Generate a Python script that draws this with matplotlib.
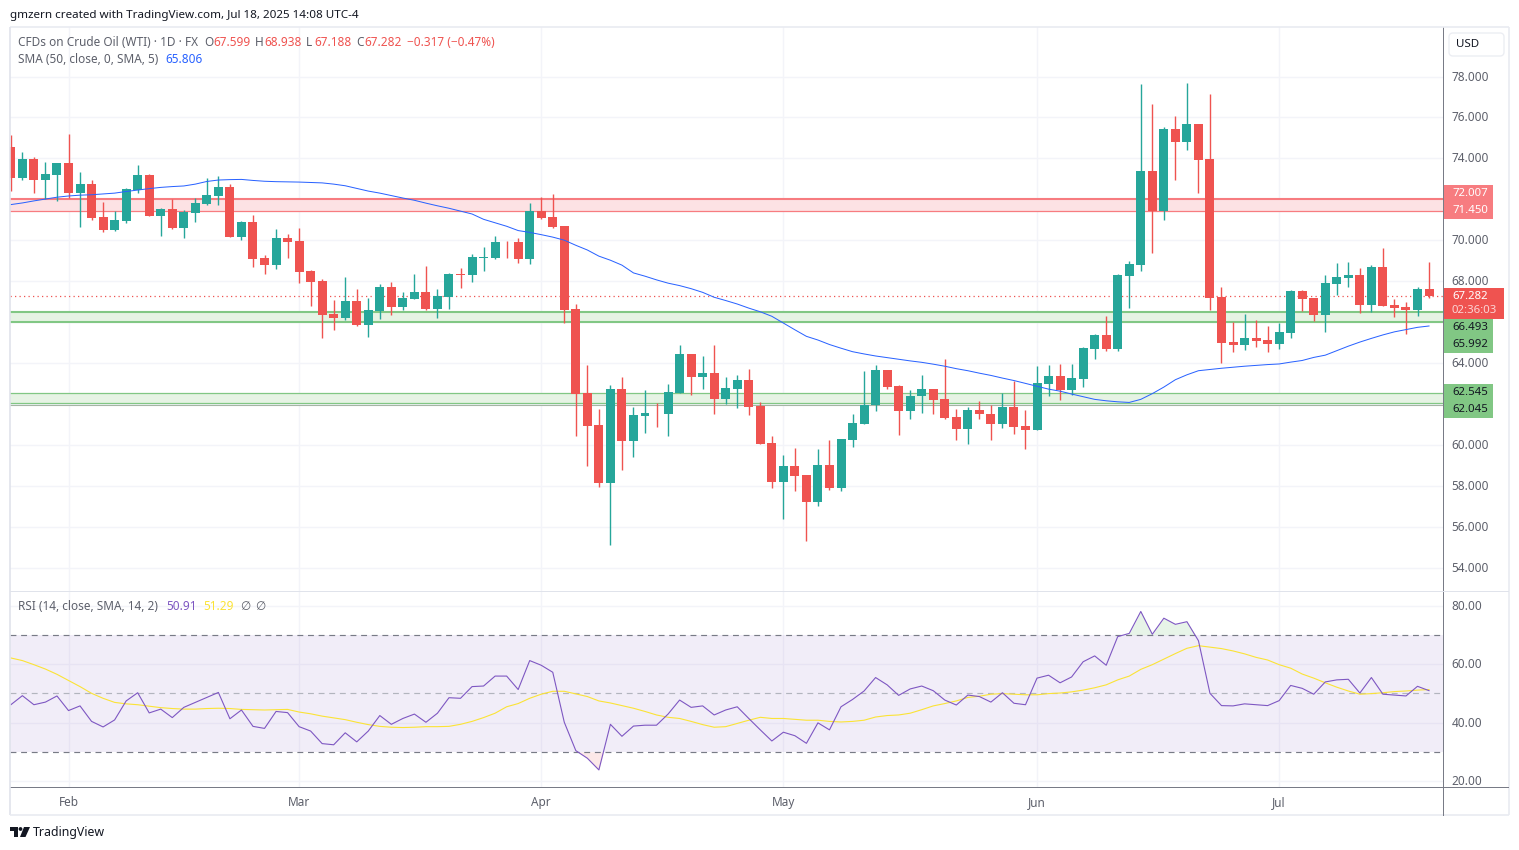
import matplotlib
matplotlib.use("Agg")
import matplotlib.pyplot as plt
from matplotlib.patches import Rectangle, FancyBboxPatch, Polygon, Circle
from matplotlib.transforms import ScaledTranslation

plt.rcParams['font.family'] = ['Noto Sans', 'DejaVu Sans']

opens = [74.55,73.04,73.97,72.94,73.19,73.77,72.31,72.75,71.13,70.50,70.94,72.45,73.19,71.18,71.52,70.60,71.33,71.77,72.16,72.60,
         70.16,70.89,69.13,68.79,70.11,69.97,68.50,68.01,66.40,66.21,67.04,65.86,66.55,67.72,66.74,67.13,67.48,66.64,67.23,68.34,
         68.31,69.15,69.12,69.93,69.92,69.09,71.43,71.14,70.70,66.65,62.54,60.98,58.15,62.74,60.20,61.42,61.57,61.52,62.54,64.45,
         63.33,63.52,62.25,62.74,63.18,61.91,60.10,58.20,58.98,58.50,57.18,59.03,57.91,60.25,61.04,61.92,63.67,62.89,61.67,62.36,
         62.75,62.26,61.38,60.79,61.72,61.52,61.04,61.87,60.94,60.74,62.98,63.37,62.68,63.22,64.69,65.37,64.69,68.25,68.79,73.38,
         71.43,75.43,74.80,75.68,73.97,67.23,65.03,64.89,65.23,65.13,64.93,65.47,67.52,67.18,66.35,67.87,68.16,68.31,66.84,68.70,
         66.84,66.74,66.60,67.599]
closes = [73.04,73.97,72.94,73.23,73.77,72.31,72.75,71.08,70.50,70.99,72.50,73.19,71.18,71.52,70.60,71.38,71.82,72.21,72.60,70.16,
          70.89,69.08,68.79,70.11,69.91,68.45,67.96,66.35,66.21,67.04,65.86,66.60,67.72,66.74,67.18,67.48,66.64,67.28,68.35,68.30,
          69.19,69.17,69.92,69.90,69.09,71.43,71.09,70.65,66.60,62.50,60.93,58.15,62.74,60.20,61.47,61.57,61.53,62.59,64.45,63.33,
          63.52,62.25,62.79,63.18,61.86,60.05,58.20,58.98,58.45,57.18,59.03,57.91,60.30,61.08,61.96,63.67,62.84,61.67,62.40,62.75,
          62.21,61.33,60.79,61.72,61.48,61.04,61.87,60.89,60.74,63.04,63.37,62.68,63.27,64.73,65.37,64.69,68.30,68.84,73.38,71.43,
          75.43,74.80,75.68,73.92,67.18,64.98,64.89,65.23,65.08,64.93,65.52,67.52,67.13,66.35,67.92,68.21,68.31,66.84,68.70,66.79,
          66.69,66.60,67.62,67.282]
highs = [75.14,74.31,74.07,73.82,73.77,75.19,73.33,72.94,71.87,71.43,72.55,73.67,73.23,71.57,72.01,71.48,72.06,73.04,73.14,72.75,
         70.94,71.23,69.28,70.55,70.30,70.60,68.55,68.11,67.08,68.21,67.62,67.18,67.87,67.96,67.48,68.35,68.75,67.62,68.40,68.65,
         69.33,69.67,70.21,69.97,70.11,71.82,72.12,72.26,70.70,66.89,63.91,61.76,62.93,63.33,61.86,62.69,62.06,62.98,64.89,64.45,
         64.35,64.89,63.33,63.42,63.72,62.10,60.44,59.51,59.86,58.50,59.81,60.25,60.30,61.48,63.63,63.92,63.67,62.94,62.70,63.43,
         62.75,64.21,61.77,61.87,62.16,61.92,62.55,63.14,61.72,63.87,63.91,63.96,63.96,64.78,65.42,66.30,68.35,68.99,77.63,76.66,
         75.53,76.07,77.68,75.68,77.14,67.72,66.01,66.40,66.11,65.81,65.96,67.57,67.57,67.18,68.31,68.89,68.94,68.65,68.79,69.63,
         67.13,66.99,67.72,68.938]
lows = [72.40,72.94,72.31,72.01,71.92,72.06,70.65,70.99,70.40,70.45,70.84,72.31,71.18,70.21,70.55,70.11,70.89,71.72,71.72,70.16,
        70.01,68.69,68.35,68.59,69.13,67.92,66.79,65.23,65.62,66.11,65.81,65.28,66.16,66.35,66.60,67.13,66.60,66.21,66.64,67.67,
        67.96,68.50,69.09,69.14,68.89,68.84,71.04,70.60,65.96,60.44,58.98,57.95,55.12,58.78,59.42,60.59,60.88,60.44,62.54,62.45,
        62.74,61.52,62.01,61.81,61.47,60.05,57.90,56.39,57.76,55.32,57.03,57.81,57.76,59.91,61.04,61.67,62.75,60.50,61.28,61.57,
        61.52,61.28,60.25,60.06,61.28,60.25,60.84,60.55,59.81,60.74,62.40,62.19,62.44,62.83,64.20,64.59,64.59,66.69,68.50,69.38,
        70.99,72.94,74.41,72.31,66.59,64.00,64.54,64.64,64.79,64.54,64.69,65.23,66.55,66.06,65.52,67.33,67.72,66.45,66.50,66.79,
        66.25,65.42,66.30,67.188]
sma50 = [71.74,71.82,71.92,72.01,72.10,72.16,72.20,72.22,72.26,72.30,72.38,72.45,72.52,72.58,72.62,72.65,72.74,72.87,72.94,72.96,
         72.97,72.92,72.88,72.86,72.85,72.84,72.82,72.80,72.74,72.66,72.53,72.40,72.30,72.18,72.06,71.95,71.81,71.68,71.56,71.42,
         71.28,71.02,70.85,70.68,70.47,70.38,70.27,70.15,70.00,69.75,69.52,69.22,69.02,68.78,68.40,68.24,68.06,67.90,67.78,67.63,
         67.45,67.21,67.05,66.88,66.68,66.50,66.28,65.95,65.62,65.30,65.12,64.90,64.72,64.55,64.44,64.34,64.26,64.18,64.10,64.03,
         63.94,63.84,63.72,63.62,63.50,63.39,63.26,63.14,63.00,62.86,62.72,62.62,62.48,62.35,62.22,62.15,62.10,62.07,62.22,62.50,
         62.82,63.18,63.42,63.62,63.68,63.74,63.79,63.84,63.88,63.92,63.95,64.04,64.12,64.27,64.38,64.60,64.82,65.02,65.20,65.37,
         65.52,65.63,65.74,65.806]
rsi = [46.1,49.2,46.1,47.0,49.1,44.1,45.7,40.4,38.5,40.9,47.4,50.2,43.3,44.6,41.7,45.2,46.9,48.6,50.3,41.3,
       44.3,38.7,38.0,43.8,43.4,38.6,37.1,32.8,32.4,36.5,33.4,37.1,42.4,39.4,41.4,42.9,40.1,43.2,48.5,48.3,
       52.3,52.5,55.9,55.9,51.3,61.2,59.6,57.2,40.1,30.4,27.8,23.8,39.4,35.3,38.8,39.1,39.1,42.9,47.7,45.2,
       45.7,42.6,44.3,45.4,41.4,37.5,33.7,36.7,35.5,32.9,39.9,37.5,45.4,47.9,50.8,55.4,52.9,49.3,51.5,52.5,
       50.9,47.7,46.0,49.4,48.9,47.0,50.2,46.6,46.1,55.2,56.2,53.6,55.6,60.8,62.8,59.6,69.4,70.5,78.0,70.2,
       75.7,73.6,74.5,68.0,50.0,45.8,45.7,46.4,46.1,45.8,47.5,52.7,51.7,49.7,53.9,54.6,54.8,50.1,55.4,49.7,
       49.4,49.1,52.4,50.91]
rsi_ma = [62.1,61.2,59.8,58.3,56.5,54.4,52.3,50.0,48.3,46.9,46.4,46.1,45.6,45.1,44.8,44.6,44.6,44.8,44.9,44.8,
          44.5,44.4,44.3,44.4,44.5,43.6,43.0,42.2,41.6,41.0,40.1,39.3,38.7,38.4,38.3,38.4,38.6,38.6,38.7,39.4,
          40.4,41.7,43.2,45.4,46.5,48.3,49.7,50.7,50.7,49.8,48.9,47.4,46.7,45.8,44.9,43.8,42.6,41.8,41.4,40.4,
          39.3,38.4,38.6,39.7,40.8,41.8,41.4,41.4,41.1,40.8,40.8,40.4,40.2,40.4,40.8,41.9,42.4,42.6,43.2,44.4,
          45.7,46.5,47.4,48.6,49.0,49.7,49.9,49.7,49.5,49.5,49.9,50.1,50.5,51.1,51.9,52.9,54.6,55.9,58.2,59.8,
          61.7,63.6,65.4,66.3,65.8,65.3,64.5,63.5,62.3,61.4,59.8,58.6,56.6,55.2,53.6,52.1,50.8,49.7,49.9,50.2,
          50.6,50.8,51.1,51.29]

price_ticks = [54, 56, 58, 60, 62, 64, 66, 68, 70, 72, 74, 76, 78]
hidden_price_ticks = [62, 66, 72]
rsi_ticks = [20, 40, 60, 80]
month_pos = [5, 25, 46, 67, 89, 110]
month_labels = ["Feb", "Mar", "Apr", "May", "Jun", "Jul"]
red_zone = [71.450, 72.007]
green_zone_a = [65.992, 66.493]
green_zone_b = [62.045, 62.545]
last_close = 67.282

W, H = 1519, 850
UP, DOWN = "#26a69a", "#ef5350"
GRID, TXT, AXIS = "#f3f4f9", "#5d606b", "#787b86"
YELLOW = "#fbe336"
L, R = 10, 1443
P_T, P_B, R_B = 27, 591, 787
px = 1 / 100.0
lw1 = 0.72

fig = plt.figure(figsize=(W * px, H * px), dpi=100, facecolor="white")

def axes_px(x0, x1, y0, y1):
    return fig.add_axes([x0 / W, 1 - y1 / H, (x1 - x0) / W, (y1 - y0) / H])

ax = axes_px(L, R, P_T, P_B)
ar = axes_px(L, R, P_B, R_B)
ov = fig.add_axes([0, 0, 1, 1], zorder=10)
ov.set_xlim(0, W); ov.set_ylim(H, 0); ov.axis("off"); ov.patch.set_alpha(0)

xlim = ((L - 10.85) / 11.53, (R - 10.85) / 11.53)
for a in (ax, ar):
    a.set_xlim(*xlim)
    a.set_xticks(month_pos)
    a.grid(True, color=GRID, lw=1.0, zorder=0)
    a.set_axisbelow(True)
    a.yaxis.tick_right()
    a.tick_params(length=0, labelcolor=TXT, labelsize=8.5, pad=6)
    for s in a.spines.values():
        s.set_visible(False)
    a.spines["right"].set_visible(True)
    a.spines["right"].set_color(AXIS)
    a.spines["right"].set_linewidth(lw1)
ax.set_ylim(78 - (P_B - 76.5) / 20.46, 78 + (76.5 - P_T) / 20.46)
ax.set_yticks(price_ticks, ["" if t in hidden_price_ticks else f"{t:.3f}" for t in price_ticks])
ax.tick_params(labelbottom=False)
ar.set_ylim(17.96, 85.0)
ar.set_yticks(rsi_ticks, [f"{t:.2f}" for t in rsi_ticks])
ar.set_xticklabels(month_labels)
ar.tick_params(axis="x", pad=6.5, labelsize=8.5)
ar.spines["bottom"].set_visible(True)
ar.spines["bottom"].set_color(AXIS)
ar.spines["bottom"].set_linewidth(lw1)
ar.spines["top"].set_visible(True)
ar.spines["top"].set_color("#e0e3eb")
ar.spines["top"].set_linewidth(lw1)
up1 = ScaledTranslation(0, 1 / 100, fig.dpi_scale_trans)
for a in (ax, ar):
    for lab in a.get_yticklabels():
        lab.set_transform(lab.get_transform() + up1)

# zones
ax.axhspan(*red_zone, color="#fde2e4", lw=0, zorder=1)
ax.axhline(red_zone[1], color="#f77c80", lw=1.5, zorder=1.5)
ax.axhline(red_zone[0], color="#f77c80", lw=0.9, zorder=1.5)
ax.axhspan(*green_zone_a, color="#e6f3e4", lw=0, zorder=1)
ax.axhline(green_zone_a[1], color="#81c784", lw=1.5, zorder=1.5)
ax.axhline(green_zone_a[0], color="#81c784", lw=1.5, zorder=1.5)
ax.axhspan(*green_zone_b, color="#e6f3e4", lw=0, zorder=1)
ax.axhline(green_zone_b[1], color="#81c784", lw=0.9, zorder=1.5)
ax.axhline(green_zone_b[0], color="#81c784", lw=0.9, zorder=1.5)
ax.axhline(green_zone_b[0] - 0.09, color="#a5b5a5", lw=0.8, zorder=1.5)
ax.axhline(last_close, color=DOWN, lw=0.9, ls=(0, (1, 2.6)), zorder=1.6)

# candles
idx = list(range(len(opens)))
cols = [UP if c >= o else DOWN for o, c in zip(opens, closes)]
ax.vlines(idx, lows, highs, colors=cols, lw=1.0, zorder=3)
ax.bar(idx, [abs(c - o) for o, c in zip(opens, closes)], bottom=[min(o, c) for o, c in zip(opens, closes)],
       width=0.78, color=cols, lw=0, zorder=3.1)
ax.plot(idx, sma50, color="#2962ff", lw=0.72, zorder=4, solid_joinstyle="round")

# RSI
ar.axhspan(30, 70, color="#7e57c2", alpha=0.1, lw=0, zorder=1)
ar.axhline(70, color=AXIS, lw=0.85, ls=(0, (5, 4)), zorder=2)
ar.axhline(30, color=AXIS, lw=0.85, ls=(0, (5, 4)), zorder=2)
ar.axhline(50, color="#b2b5be", lw=0.85, ls=(0, (5, 4)), zorder=2)
ar.fill_between(idx, 70, rsi, where=[v > 70 for v in rsi], interpolate=True, color="#4caf50", alpha=0.13, lw=0, zorder=1.5)
ar.fill_between(idx, 30, rsi, where=[v < 30 for v in rsi], interpolate=True, color="#ef5350", alpha=0.13, lw=0, zorder=1.5)
ar.plot(idx, rsi_ma, color=YELLOW, lw=0.8, zorder=3)
ar.plot(idx, rsi, color="#7e57c2", lw=0.8, zorder=4)

# frame
for x0, y0, x1, y1, c in [(L, P_T, 1509, P_T, "#e9ebf1"), (L, P_T, L, 815, "#e0e3eb"), (1509, P_T, 1509, 815, "#e9ebf1"), (L, 815, 1509, 815, "#e9ebf1")]:
    ov.plot([x0, x1], [y0, y1], color=c, lw=1.2, solid_capstyle="butt")
ov.plot([R, 1508], [R_B, R_B], color=AXIS, lw=lw1)
ov.plot([R, 1508], [P_B, P_B], color="#e0e3eb", lw=lw1)
ov.plot([R, R], [R_B, 815], color=AXIS, lw=lw1)

def t(x, y, s, c=TXT, **k):
    k.setdefault("fontsize", 8.5)
    ov.text(x, y, s, color=c, va="center", ha=k.pop("ha", "left"), **k)

t(10, 15, "gmzern created with TradingView.com, Jul 18, 2025 14:08 UTC-4", "#131722", fontsize=8.4)
t(18, 42, "CFDs on Crude Oil (WTI) · 1D · FX")
for x, s, c in [(204, "O", TXT), (213, "67.599", DOWN), (255, "H", TXT), (264, "68.938", DOWN), (306, "L", TXT),
                (314, "67.188", DOWN), (356, "C", TXT), (364, "67.282", DOWN), (407, "\u22120.317 (\u22120.47%)", DOWN)]:
    t(x, 42, s, c)
t(18, 59, "SMA (50, close, 0, SMA, 5)")
t(165, 59, "65.806", "#2962ff")
t(18, 607, "RSI (14, close, SMA, 14, 2)")
t(166, 607, "50.91", "#7e57c2")
t(203, 607, "51.29", YELLOW)
t(240, 607, "\u2205")
t(255, 607, "\u2205")

# right-hand price labels
def box(x1, y0, y1, c):
    ov.add_patch(Rectangle((1444, y0), x1 - 1444, y1 - y0, color=c, lw=0, zorder=5))
box(1492.5, 185, 219, "#f77c80")
box(1504, 288, 319, DOWN)
box(1492.5, 319, 353, "#81c784")
box(1492.5, 384, 418, "#81c784")
for y, s, c in [(193.5, "72.007", "white"), (210.5, "71.450", "white"), (296.5, "67.282", "white"), (310.5, "02:36:03", "#fbd5d5"),
                (327.5, "66.493", "#131722"), (344.5, "65.992", "#131722"), (392.5, "62.545", "#131722"), (409.5, "62.045", "#131722")]:
    ov.text(1452, y, s, color=c, va="center", ha="left", fontsize=8.2, zorder=6, fontweight="medium")

# currency button
ov.add_patch(FancyBboxPatch((1449, 33), 55, 23, boxstyle="round,pad=0,rounding_size=4", fc="white", ec="#eceef3", lw=1))
t(1456, 44.5, "USD", "#131722", fontsize=8.3)

# logo
ov.add_patch(Polygon([(10, 827), (18, 827), (18, 837), (14, 837), (14, 831), (10, 831)], color="#131722", lw=0))
ov.add_patch(Circle((20.5, 829), 1.9, color="#131722", lw=0))
ov.add_patch(Polygon([(24, 827), (30, 827), (25.5, 837), (20, 837)], color="#131722", lw=0))
t(33, 832.5, "TradingView", "#131722", fontsize=8.9)

fig.savefig("out.png", dpi=100, facecolor="white")
